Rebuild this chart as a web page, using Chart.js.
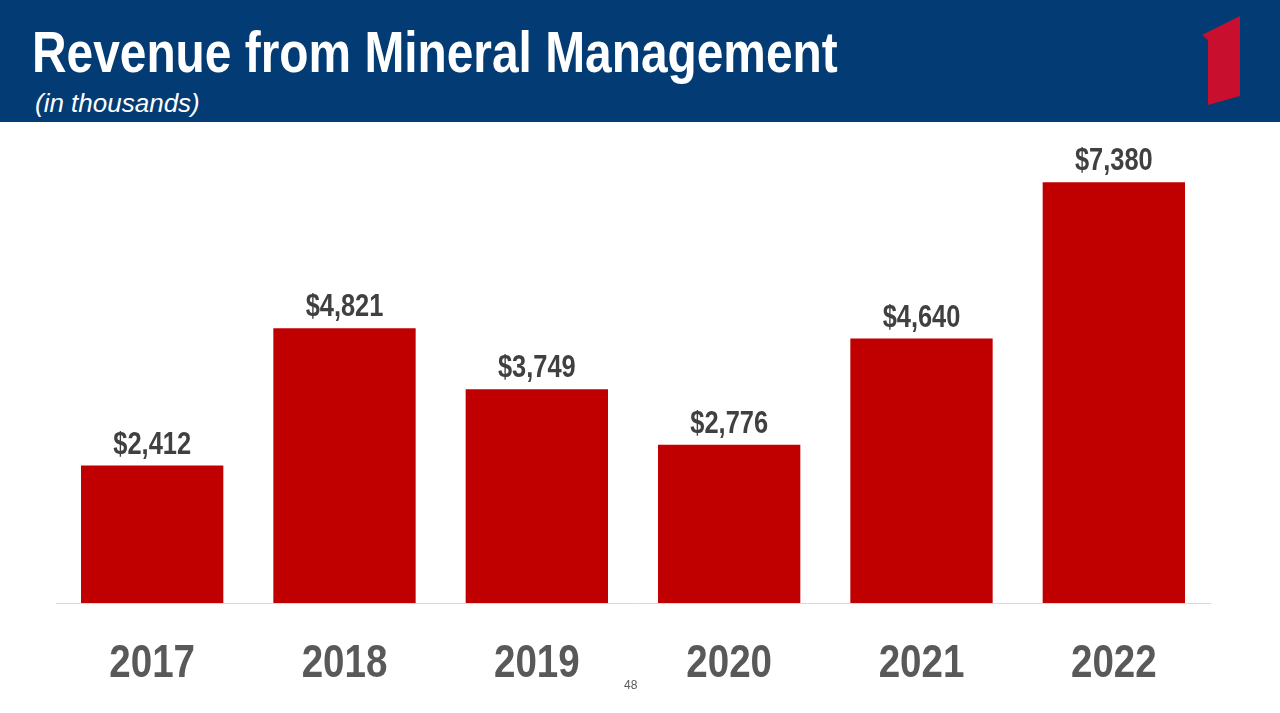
<!DOCTYPE html>
<html>
<head>
<meta charset="utf-8">
<script src="https://cdn.jsdelivr.net/npm/chart.js@4"></script>
<style>
  html, body { margin: 0; padding: 0; background: #fff; }
  #page { position: relative; width: 1280px; height: 713px; overflow: hidden; }
  #header { position: absolute; left: 0; top: 0; width: 1280px; height: 122px; background: #033c74; }
  #title { position: absolute; left: 32px; top: 17px; color: #fff; font-family: "Liberation Sans", Arial, sans-serif; font-weight: bold; font-size: 58px; line-height: 70px; white-space: nowrap; transform: scaleX(0.825); transform-origin: 0 0; }
  #subtitle { position: absolute; left: 35px; top: 87px; color: #fff; font-family: "Liberation Sans", Arial, sans-serif; font-style: italic; font-size: 26px; line-height: 32px; white-space: nowrap; }
  #logo { position: absolute; left: 1195px; top: 10px; }
  #wrap { position: absolute; left: 0; top: 122px; width: 1280px; height: 591px; }
  #pagenum { position: absolute; left: 624px; top: 678px; font-family: "Liberation Sans", Arial, sans-serif; font-size: 12px; color: #595959; }
</style>
</head>
<body>
<div id="page">
  <div id="header">
    <div id="title">Revenue from Mineral Management</div>
    <div id="subtitle">(in thousands)</div>
    <svg id="logo" width="60" height="100" viewBox="1195 10 60 100">
      <polygon points="1202,35 1240,16 1240,96 1208,105 1208,40" fill="#c8102e"/>
    </svg>
  </div>
  <div id="wrap"><canvas id="chart"></canvas></div>
  <div id="pagenum">48</div>
</div>
<script>
var years = ["2017", "2018", "2019", "2020", "2021", "2022"];
var revenue = [2412, 4821, 3749, 2776, 4640, 7380];
var valueLabels = ["$2,412", "$4,821", "$3,749", "$2,776", "$4,640", "$7,380"];

var sans = '"Liberation Sans", Arial, sans-serif';
var narrowScale = 0.82; // squeeze Arial-like glyphs towards Arial Narrow

function narrowText(ctx, text, x, y) {
  ctx.save();
  ctx.translate(x, y);
  ctx.scale(narrowScale, 1);
  ctx.fillText(text, 0, 0);
  ctx.restore();
}

// value above each bar and the year under each category
var barLabels = {
  id: "barLabels",
  afterDatasetsDraw: function (chart) {
    var ctx = chart.ctx;
    var meta = chart.getDatasetMeta(0);
    var xScale = chart.scales.x;
    var bottom = chart.chartArea.bottom;
    ctx.save();
    ctx.textAlign = "center";
    ctx.textBaseline = "alphabetic";
    ctx.font = "bold 31px " + sans;
    ctx.fillStyle = "#404040";
    meta.data.forEach(function (bar, i) {
      narrowText(ctx, valueLabels[i], bar.x, bar.y - 12);
    });
    ctx.font = "bold 47px " + sans;
    ctx.fillStyle = "#595959";
    years.forEach(function (yr, i) {
      narrowText(ctx, yr, xScale.getPixelForTick(i), bottom + 74);
    });
    ctx.restore();
  }
};

var chart = new Chart(document.getElementById("chart"), {
  type: "bar",
  data: {
    labels: years,
    datasets: [{
      data: revenue,
      backgroundColor: "#c00000",
      borderWidth: 0,
      categoryPercentage: 1,
      barPercentage: 0.74
    }]
  },
  options: {
    responsive: true,
    maintainAspectRatio: false,
    animation: false,
    layout: { padding: { left: 56, right: 70, top: 25, bottom: 110 } },
    plugins: { legend: { display: false }, tooltip: { enabled: false } },
    scales: {
      x: {
        grid: { display: false, drawTicks: false },
        border: { display: true, color: "#d9d9d9", width: 1 },
        ticks: { display: false }
      },
      y: {
        display: false,
        min: 0,
        max: 8000
      }
    }
  },
  plugins: [barLabels]
});
</script>
</body>
</html>
